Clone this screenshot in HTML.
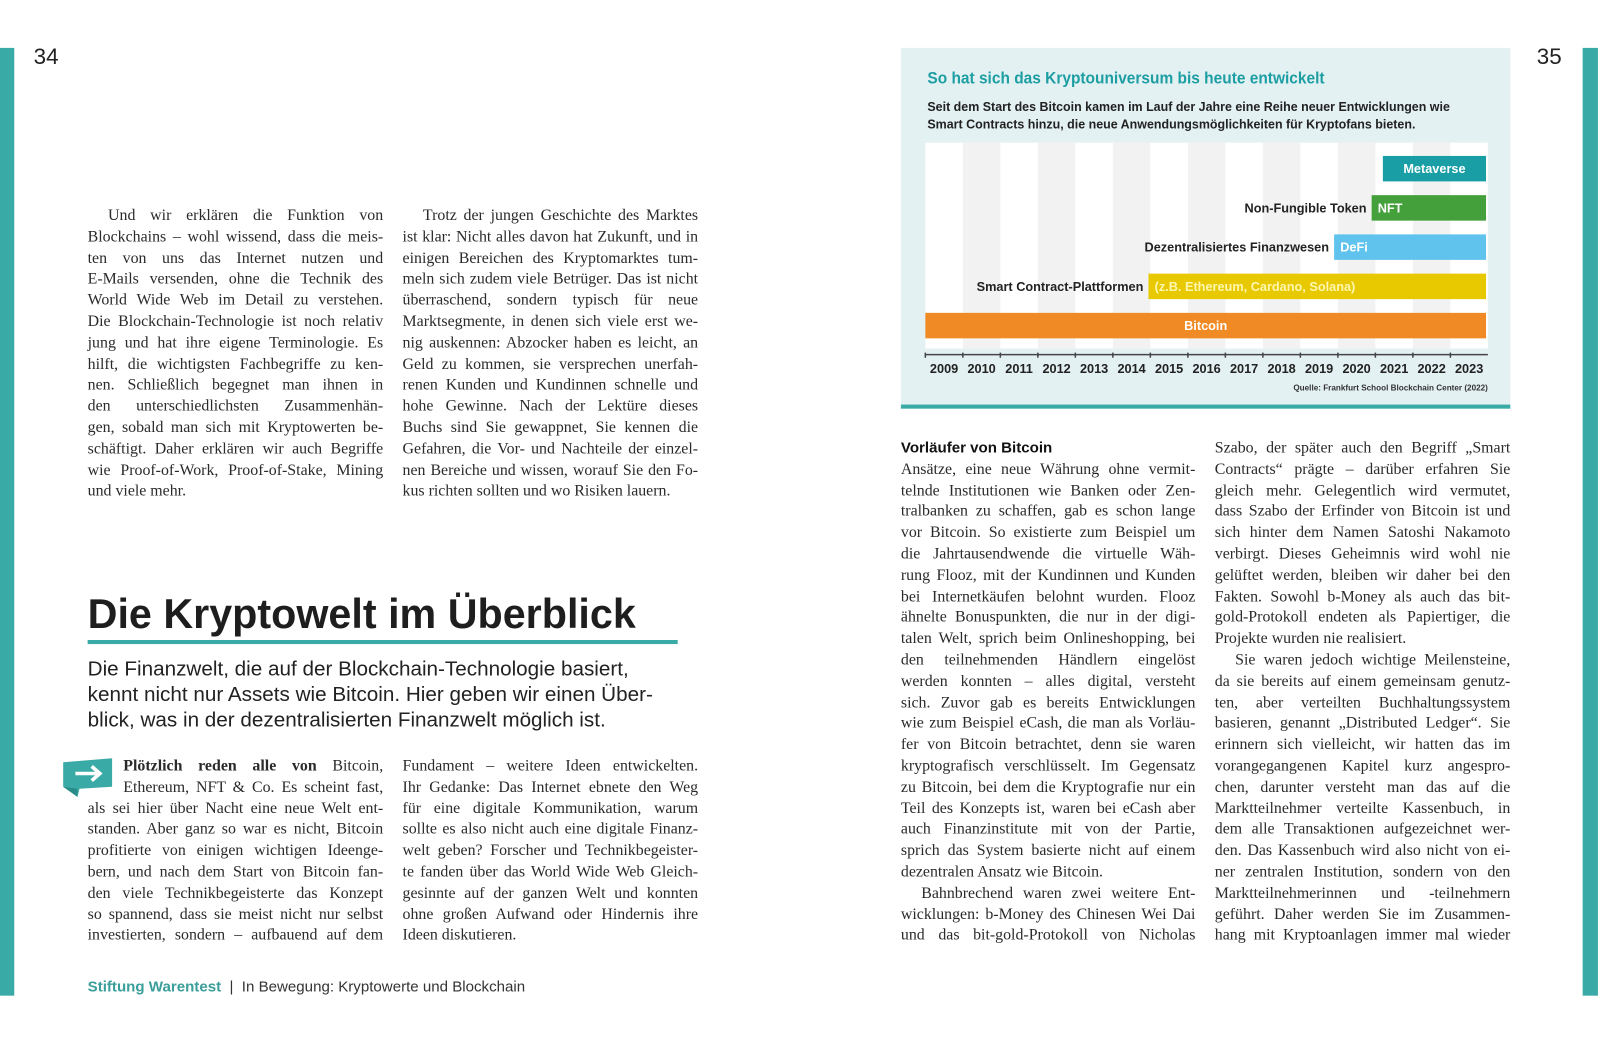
<!DOCTYPE html>
<html><head><meta charset="utf-8">
<style>
html,body{margin:0;padding:0;background:#fff;}
body{width:1598px;height:1041px;overflow:hidden;position:relative;}
#wrap{position:absolute;left:0;top:0;width:1568px;height:1021px;transform:scale(1.0191);transform-origin:0 0;}
.abs{position:absolute;}
.col{position:absolute;font-family:"Liberation Serif",serif;font-size:15.6px;line-height:20.8px;color:#2a2a2a;}
.col div{text-align:justify;text-align-last:justify;white-space:nowrap;}
.col div.l{text-align-last:left;}
.col div.i{text-indent:20px;}
.sans{font-family:"Liberation Sans",sans-serif;}
</style></head><body>
<div id="wrap">
<div class="abs" style="left:0;top:47px;width:14px;height:930px;background:#3aaaa6"></div>
<div class="abs" style="left:1553px;top:47px;width:15px;height:930px;background:#3aaaa6"></div>
<div class="abs sans" style="left:33px;top:43px;font-size:22px;color:#222">34</div>
<div class="abs sans" style="left:1508px;top:43px;font-size:22px;color:#222">35</div>

<div class="col" style="left:86px;top:202px;width:290px">
<div class="i">Und wir erklären die Funktion von</div>
<div>Blockchains – wohl wissend, dass die meis-</div>
<div>ten von uns das Internet nutzen und</div>
<div>E-Mails versenden, ohne die Technik des</div>
<div>World Wide Web im Detail zu verstehen.</div>
<div>Die Blockchain-Technologie ist noch relativ</div>
<div>jung und hat ihre eigene Terminologie. Es</div>
<div>hilft, die wichtigsten Fachbegriffe zu ken-</div>
<div>nen. Schließlich begegnet man ihnen in</div>
<div>den unterschiedlichsten Zusammenhän-</div>
<div>gen, sobald man sich mit Kryptowerten be-</div>
<div>schäftigt. Daher erklären wir auch Begriffe</div>
<div>wie Proof-of-Work, Proof-of-Stake, Mining</div>
<div class="l">und viele mehr.</div>
</div>
<div class="col" style="left:395px;top:202px;width:290px">
<div class="i">Trotz der jungen Geschichte des Marktes</div>
<div>ist klar: Nicht alles davon hat Zukunft, und in</div>
<div>einigen Bereichen des Kryptomarktes tum-</div>
<div>meln sich zudem viele Betrüger. Das ist nicht</div>
<div>überraschend, sondern typisch für neue</div>
<div>Marktsegmente, in denen sich viele erst we-</div>
<div>nig auskennen: Abzocker haben es leicht, an</div>
<div>Geld zu kommen, sie versprechen unerfah-</div>
<div>renen Kunden und Kundinnen schnelle und</div>
<div>hohe Gewinne. Nach der Lektüre dieses</div>
<div>Buchs sind Sie gewappnet, Sie kennen die</div>
<div>Gefahren, die Vor- und Nachteile der einzel-</div>
<div>nen Bereiche und wissen, worauf Sie den Fo-</div>
<div class="l">kus richten sollten und wo Risiken lauern.</div>
</div>

<div class="abs sans" style="left:86px;top:579px;font-size:40.5px;font-weight:bold;color:#1e1e1e;white-space:nowrap">Die Kryptowelt im Überblick</div>
<div class="abs" style="left:86px;top:628px;width:579px;height:4px;background:#3aaaa6"></div>
<div class="abs sans" style="left:86px;top:645px;font-size:20.3px;line-height:25px;color:#222;white-space:nowrap">Die Finanzwelt, die auf der Blockchain-Technologie basiert,<br>kennt nicht nur Assets wie Bitcoin. Hier geben wir einen Über-<br>blick, was in der dezentralisierten Finanzwelt möglich ist.</div>

<svg class="abs" style="left:60px;top:742px" width="52" height="42" viewBox="0 0 52 42"><polygon points="2,6 50,2 50,30 18,32 16,40 2,30" fill="#3aaaa6"/><polygon points="2,30 16,40 16,32" fill="#2a8c88"/><path d="M14,17 H38 M30,10 L38,17 L30,24" stroke="#fff" stroke-width="3.5" fill="none"/></svg>

<div class="col" style="left:86px;top:742px;width:290px">
<div style="margin-left:35px"><b>Plötzlich reden alle von</b> Bitcoin,</div>
<div style="margin-left:35px">Ethereum, NFT &amp; Co. Es scheint fast,</div>
<div>als sei hier über Nacht eine neue Welt ent-</div>
<div>standen. Aber ganz so war es nicht, Bitcoin</div>
<div>profitierte von einigen wichtigen Ideenge-</div>
<div>bern, und nach dem Start von Bitcoin fan-</div>
<div>den viele Technikbegeisterte das Konzept</div>
<div>so spannend, dass sie meist nicht nur selbst</div>
<div>investierten, sondern – aufbauend auf dem</div>
</div>
<div class="col" style="left:395px;top:742px;width:290px">
<div>Fundament – weitere Ideen entwickelten.</div>
<div>Ihr Gedanke: Das Internet ebnete den Weg</div>
<div>für eine digitale Kommunikation, warum</div>
<div>sollte es also nicht auch eine digitale Finanz-</div>
<div>welt geben? Forscher und Technikbegeister-</div>
<div>te fanden über das World Wide Web Gleich-</div>
<div>gesinnte auf der ganzen Welt und konnten</div>
<div>ohne großen Aufwand oder Hindernis ihre</div>
<div class="l">Ideen diskutieren.</div>
</div>

<div class="abs sans" style="left:86px;top:961px;font-size:14.8px;color:#333;white-space:nowrap"><b style="color:#3a9e9a">Stiftung Warentest</b> &nbsp;|&nbsp; In Bewegung: Kryptowerte und Blockchain</div>

<div class="abs" style="left:884px;top:47px;width:598px;height:350px;background:#e4f1f3;border-bottom:4px solid #3aaaa6"></div>
<div class="abs sans" style="left:910px;top:68px;font-size:16.5px;font-weight:bold;color:#1d9ea3;white-space:nowrap;transform:scaleX(0.92);transform-origin:0 0">So hat sich das Kryptouniversum bis heute entwickelt</div>
<div class="abs sans" style="left:910px;top:96px;font-size:13px;line-height:17px;font-weight:bold;color:#222;white-space:nowrap;transform:scaleX(0.94);transform-origin:0 0">Seit dem Start des Bitcoin kamen im Lauf der Jahre eine Reihe neuer Entwicklungen wie<br>Smart Contracts hinzu, die neue Anwendungsmöglichkeiten für Kryptofans bieten.</div>
<svg id="chart" class="abs" style="left:884px;top:130px" width="598" height="265"></svg>

<div class="col" style="left:884px;top:430px;width:289px">
<div class="l sans" style="font-weight:bold;font-size:14.8px;color:#111">Vorläufer von Bitcoin</div>
<div>Ansätze, eine neue Währung ohne vermit-</div>
<div>telnde Institutionen wie Banken oder Zen-</div>
<div>tralbanken zu schaffen, gab es schon lange</div>
<div>vor Bitcoin. So existierte zum Beispiel um</div>
<div>die Jahrtausendwende die virtuelle Wäh-</div>
<div>rung Flooz, mit der Kundinnen und Kunden</div>
<div>bei Internetkäufen belohnt wurden. Flooz</div>
<div>ähnelte Bonuspunkten, die nur in der digi-</div>
<div>talen Welt, sprich beim Onlineshopping, bei</div>
<div>den teilnehmenden Händlern eingelöst</div>
<div>werden konnten – alles digital, versteht</div>
<div>sich. Zuvor gab es bereits Entwicklungen</div>
<div>wie zum Beispiel eCash, die man als Vorläu-</div>
<div>fer von Bitcoin betrachtet, denn sie waren</div>
<div>kryptografisch verschlüsselt. Im Gegensatz</div>
<div>zu Bitcoin, bei dem die Kryptografie nur ein</div>
<div>Teil des Konzepts ist, waren bei eCash aber</div>
<div>auch Finanzinstitute mit von der Partie,</div>
<div>sprich das System basierte nicht auf einem</div>
<div class="l">dezentralen Ansatz wie Bitcoin.</div>
<div class="i">Bahnbrechend waren zwei weitere Ent-</div>
<div>wicklungen: b-Money des Chinesen Wei Dai</div>
<div>und das bit-gold-Protokoll von Nicholas</div>
</div>
<div class="col" style="left:1192px;top:430px;width:290px">
<div>Szabo, der später auch den Begriff „Smart</div>
<div>Contracts“ prägte – darüber erfahren Sie</div>
<div>gleich mehr. Gelegentlich wird vermutet,</div>
<div>dass Szabo der Erfinder von Bitcoin ist und</div>
<div>sich hinter dem Namen Satoshi Nakamoto</div>
<div>verbirgt. Dieses Geheimnis wird wohl nie</div>
<div>gelüftet werden, bleiben wir daher bei den</div>
<div>Fakten. Sowohl b-Money als auch das bit-</div>
<div>gold-Protokoll endeten als Papiertiger, die</div>
<div class="l">Projekte wurden nie realisiert.</div>
<div class="i">Sie waren jedoch wichtige Meilensteine,</div>
<div>da sie bereits auf einem gemeinsam genutz-</div>
<div>ten, aber verteilten Buchhaltungssystem</div>
<div>basieren, genannt „Distributed Ledger“. Sie</div>
<div>erinnern sich vielleicht, wir hatten das im</div>
<div>vorangegangenen Kapitel kurz angespro-</div>
<div>chen, darunter versteht man das auf die</div>
<div>Marktteilnehmer verteilte Kassenbuch, in</div>
<div>dem alle Transaktionen aufgezeichnet wer-</div>
<div>den. Das Kassenbuch wird also nicht von ei-</div>
<div>ner zentralen Institution, sondern von den</div>
<div>Marktteilnehmerinnen und -teilnehmern</div>
<div>geführt. Daher werden Sie im Zusammen-</div>
<div>hang mit Kryptoanlagen immer mal wieder</div>
</div>
</div>

<script>
const years = [2009,2010,2011,2012,2013,2014,2015,2016,2017,2018,2019,2020,2021,2022,2023];
const seriesNames = ["Metaverse","NFT","DeFi","(z.B. Ethereum, Cardano, Solana)","Bitcoin"];
const seriesLabels = ["","Non-Fungible Token","Dezentralisiertes Finanzwesen","Smart Contract-Plattformen",""];
const startYears = [2021.2, 2020.9, 2019.9, 2014.95, 2009];
const endYears = [2023.95, 2023.95, 2023.95, 2023.95, 2023.95];
const colors = ["#1a9ea6","#43a03a","#5fc3ee","#e8c900","#f08a24"];

const NS="http://www.w3.org/2000/svg";
const svg=document.getElementById('chart');
const x0=24, x1=576, yTop=10, yBot=212;
const firstYear=years[0], lastYear=years[years.length-1]+1;
function xs(v){return x0+(v-firstYear)/(lastYear-firstYear)*(x1-x0);}
const rowH=38.5, rowTop=23, barH=25;
function ys(i){return rowTop+i*rowH;}
function mk(tag,attrs){const e=document.createElementNS(NS,tag);for(const k in attrs)e.setAttribute(k,attrs[k]);svg.appendChild(e);return e;}
const cond="'Liberation Sans',sans-serif";

let bg=mk('rect',{x:x0,y:yTop,width:x1-x0,height:yBot-yTop,fill:'#ffffff'});


years.forEach((yr,i)=>{
  if(i%2===1){
    const s=mk('rect',{x:xs(yr),y:yTop,width:xs(yr+1)-xs(yr),height:yBot-yTop,fill:'#f2f2f2'});
    
    
  }
});
seriesNames.forEach((n,i)=>{
  const y=ys(i);
  const r=mk('rect',{x:xs(startYears[i]),y:y,width:xs(endYears[i])-xs(startYears[i]),height:barH,fill:colors[i]});
  
  
  const t=mk('text',{y:y+17,'font-family':cond,'font-weight':'bold','font-size':12.5,fill:i===3?'#fff7b0':'#ffffff'});
  if(i===0||i===4){t.setAttribute('x',(xs(startYears[i])+xs(endYears[i]))/2);t.setAttribute('text-anchor','middle');}
  else{t.setAttribute('x',xs(startYears[i])+6);}
  t.textContent=n;
  
  
  if(seriesLabels[i]){
    const l=mk('text',{x:xs(startYears[i])-5,y:y+17,'text-anchor':'end','font-family':cond,'font-weight':'bold','font-size':12.5,fill:'#222'});
    l.textContent=seriesLabels[i];
    
    
  }
});
const ax=mk('line',{x1:x0,x2:x1,y1:218,y2:218,stroke:'#444','stroke-width':1.5});


years.forEach(yr=>{
  const tk=mk('line',{x1:xs(yr),x2:xs(yr),y1:216,y2:221,stroke:'#444','stroke-width':1.5});
  
  
  const tl=mk('text',{x:(xs(yr)+xs(yr+1))/2,y:236,'text-anchor':'middle','font-family':cond,'font-weight':'bold','font-size':12.5,fill:'#222'});
  tl.textContent=yr;
  
  
});
const src=mk('text',{x:576,y:253,'text-anchor':'end','font-family':cond,'font-weight':'bold','font-size':8,fill:'#333'});
src.textContent='Quelle: Frankfurt School Blockchain Center (2022)';


</script>
</body></html>
